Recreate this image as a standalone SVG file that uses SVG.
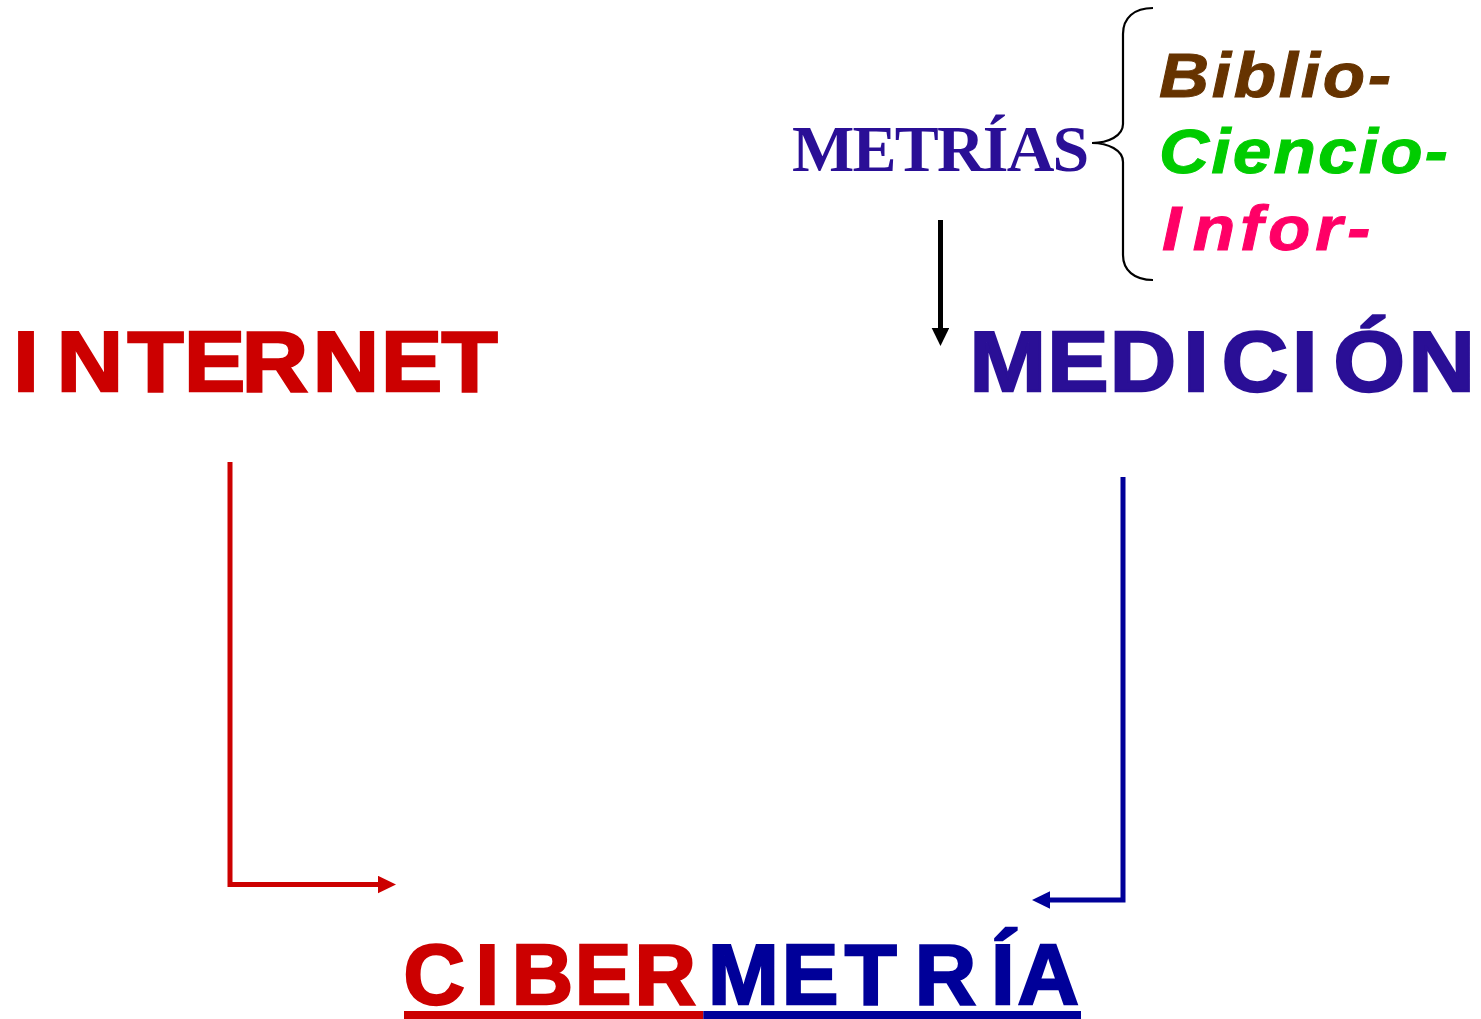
<svg xmlns="http://www.w3.org/2000/svg" width="1481" height="1019" viewBox="0 0 1481 1019">
  <style>
    .big { font-family: "Liberation Sans", Arial, sans-serif; font-weight: bold; font-size: 85px; text-anchor: middle; stroke-width: 2.4; stroke-linejoin: miter; }
    .red { fill: #CC0000; stroke: #CC0000; }
    .violet { fill: #2A0F96; stroke: #2A0F96; }
    .navy { fill: #000099; stroke: #000099; }
    .serif { font-family: "Liberation Serif", "Times New Roman", serif; font-weight: bold; font-size: 66px; fill: #2A0F96; }
    .ital { font-family: "Liberation Sans", Arial, sans-serif; font-weight: bold; font-style: italic; font-size: 63px; stroke-width: 1; }
    .conn { fill: none; stroke-width: 5; }
  </style>
  <defs>
    <marker id="head-black" markerUnits="userSpaceOnUse" markerWidth="18" markerHeight="18" refX="2" refY="8.8" orient="auto">
      <path d="M0,0 L18,8.8 L0,17.6 Z" fill="#000000"/>
    </marker>
    <marker id="head-red" markerUnits="userSpaceOnUse" markerWidth="18" markerHeight="18" refX="2" refY="8.7" orient="auto">
      <path d="M0,0 L18,8.7 L0,17.4 Z" fill="#CC0000"/>
    </marker>
    <marker id="head-navy" markerUnits="userSpaceOnUse" markerWidth="18" markerHeight="18" refX="2" refY="8.7" orient="auto">
      <path d="M0,0 L18,8.7 L0,17.4 Z" fill="#000099"/>
    </marker>
  </defs>

  <rect width="1481" height="1019" fill="#FFFFFF"/>

  <!-- prefix list -->
  <g id="metrias">
    <text class="serif" x="792" y="171" letter-spacing="-1.8">METRÍAS</text>
  </g>
  <g id="brace">
    <path d="M1153,8 C1134,8 1123,18 1123,34 L1123,124 C1123,136 1108,143 1092,143 C1108,143 1123,150 1123,162 L1123,255 C1123,270 1134,280 1153,280" fill="none" stroke="#000000" stroke-width="2.2"/>
  </g>
  <g id="biblio">
    <text class="ital" transform="translate(1159,96.7) scale(1.1,1)" letter-spacing="2.5" fill="#663300" stroke="#663300">Biblio-</text>
  </g>
  <g id="ciencio">
    <text class="ital" transform="translate(1159,173.3) scale(1.1,1)" letter-spacing="2" fill="#00CC00" stroke="#00CC00">Ciencio-</text>
  </g>
  <g id="infor">
    <text class="ital" transform="translate(1162,250) scale(1.1,1)" fill="#FF0066" stroke="#FF0066"><tspan x="0">I</tspan><tspan x="28" letter-spacing="4.5">nfor-</tspan></text>
  </g>

  <!-- main terms -->
  <g id="internet">
    <text class="big red" transform="scale(1.08,1)" y="390.7" x="24.07 83.33 143.98 198.61 254.63 320.37 381.02 434.72">INTERNET</text>
  </g>
  <g id="medicion">
    <text class="big violet" transform="scale(1.08,1)" y="390.7" x="933.06 998.15 1058.15 1107.41 1161.85 1208.15 1267.87 1334.91">MEDICIÓN</text>
  </g>
  <g id="cibermetria">
    <text class="big" y="1004.3" x="434.2 487.3 542.5 603 665.3 743.3 810 870.8 945.5 1002.7 1048.3"><tspan class="red">CIBER</tspan><tspan class="navy">METRÍA</tspan></text>
    <rect x="404" y="1011" width="299.3" height="8" fill="#CC0000"/>
    <rect x="703.3" y="1011" width="377.7" height="8" fill="#000099"/>
  </g>

  <!-- connectors -->
  <g id="connectors">
    <path class="conn" d="M940.5,220 V330" stroke="#000000" marker-end="url(#head-black)"/>
    <path class="conn" d="M230,462 V884.5 H380" stroke="#CC0000" marker-end="url(#head-red)"/>
    <path class="conn" d="M1123,477 V900 H1048" stroke="#000099" marker-end="url(#head-navy)"/>
  </g>
</svg>
